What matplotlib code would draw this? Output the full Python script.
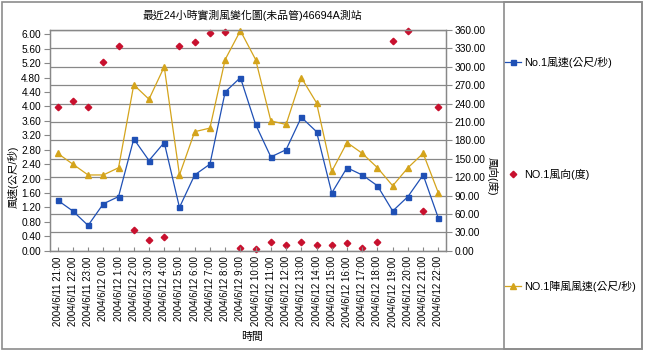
import matplotlib
matplotlib.use('Agg')
import matplotlib.pyplot as plt
from matplotlib.lines import Line2D
from matplotlib.patches import Rectangle

plt.rcParams['font.family'] = ['Liberation Sans', 'Noto Sans CJK TC', 'DejaVu Sans']

# data
times = ['2004/6/11 21:00', '2004/6/11 22:00', '2004/6/11 23:00',
         '2004/6/12 0:00', '2004/6/12 1:00', '2004/6/12 2:00', '2004/6/12 3:00',
         '2004/6/12 4:00', '2004/6/12 5:00', '2004/6/12 6:00', '2004/6/12 7:00',
         '2004/6/12 8:00', '2004/6/12 9:00', '2004/6/12 10:00', '2004/6/12 11:00',
         '2004/6/12 12:00', '2004/6/12 13:00', '2004/6/12 14:00', '2004/6/12 15:00',
         '2004/6/12 16:00', '2004/6/12 17:00', '2004/6/12 18:00', '2004/6/12 19:00',
         '2004/6/12 20:00', '2004/6/12 21:00', '2004/6/12 22:00']
speed = [1.4, 1.1, 0.7, 1.3, 1.5, 3.1, 2.5, 3.0, 1.2, 2.1, 2.4, 4.4, 4.8,
         3.5, 2.6, 2.8, 3.7, 3.3, 1.6, 2.3, 2.1, 1.8, 1.1, 1.5, 2.1, 0.9]
direction = [234, 244, 234, 307, 334, 33, 18, 23, 334, 340, 355, 357, 4,
             3, 15, 9, 15, 9, 9, 12, 4, 14, 342, 358, 64, 235]
gust = [2.7, 2.4, 2.1, 2.1, 2.3, 4.6, 4.2, 5.1, 2.1, 3.3, 3.4, 5.3, 6.1,
        5.3, 3.6, 3.5, 4.8, 4.1, 2.2, 3.0, 2.7, 2.3, 1.8, 2.3, 2.7, 1.6]

left_ticks = [i * 0.4 for i in range(16)]
right_ticks = list(range(0, 361, 30))

blue = '#1f50b5'
gold = '#d4a41c'
red = '#c8102e'
grey = '#888888'

W, H = 645, 352
fig = plt.figure(figsize=(W / 100, H / 100), dpi=100)

ax = fig.add_axes([50 / W, 1 - 250.7 / H, 396 / W, 220.7 / H])
ax2 = ax.twinx()
ax.set_zorder(ax2.get_zorder() + 1)
ax.patch.set_visible(False)

x = list(range(len(times)))

# right axis: direction + gridlines
ax2.plot(x, direction, linestyle='none', marker='D', markersize=3.3,
         color=red, clip_on=False)
ax2.set_ylim(0, 360)
ax2.set_yticks(right_ticks)
ax2.set_yticklabels(['%.2f' % v for v in right_ticks], fontsize=7.3)
ax2.yaxis.grid(True, color=grey, linewidth=0.9)
ax2.set_axisbelow(True)
ax2.tick_params(axis='y', direction='out', length=4, pad=2, color=grey)

# left axis: speed and gust
ax.plot(x, speed, color=blue, linewidth=0.9, marker='s', markersize=3.6,
        clip_on=False)
ax.plot(x, gust, color=gold, linewidth=0.9, marker='^', markersize=5,
        clip_on=False)
ax.set_ylim(0, 6.12)
ax.set_yticks(left_ticks)
ax.set_yticklabels(['%.2f' % v for v in left_ticks], fontsize=7.3)
ax.tick_params(axis='y', direction='out', length=4, pad=2.5, color=grey)

ax.set_xlim(-0.5, len(times) - 0.5)
ax.set_xticks(x)
ax.set_xticklabels(times, rotation=90, fontsize=7)
ax.tick_params(axis='x', direction='in', length=3, pad=4, color=grey)

for a in (ax, ax2):
    for s in a.spines.values():
        s.set_color(grey)
        s.set_linewidth(0.9)

fig.text(252 / W, 1 - 15 / H, '最近24小時實測風變化圖(未品管)46694A測站',
         ha='center', va='center', fontsize=7.8)
fig.text(13 / W, 1 - 177 / H, '風速(公尺/秒)', rotation=90,
         ha='center', va='center', fontsize=7.6)
fig.text(492 / W, 1 - 176 / H, '風向(度)', rotation=270,
         ha='center', va='center', fontsize=7.6)
fig.text(252 / W, 1 - 337 / H, '時間', ha='center', va='center', fontsize=7.8)

# frames
fig.patches.append(Rectangle((2 / W, 1 - 349 / H), 640 / W, 347 / H,
                             transform=fig.transFigure, fill=False,
                             edgecolor='#8c8c8c', linewidth=1.2))
fig.patches.append(Rectangle((504 / W, 1 - 349 / H), 138 / W, 347 / H,
                             transform=fig.transFigure, fill=False,
                             edgecolor='#8c8c8c', linewidth=1.2))

handles = [
    Line2D([], [], color=blue, linewidth=0.9, marker='s', markersize=3.6),
    Line2D([], [], linestyle='none', marker='D', markersize=3.3, color=red),
    Line2D([], [], color=gold, linewidth=0.9, marker='^', markersize=5),
]
labels = ['No.1風速(公尺/秒)', 'NO.1風向(度)', 'NO.1陣風風速(公尺/秒)']
fig.legend(handles, labels, loc='upper left',
           bbox_to_anchor=(505 / W, 1 - 57 / H), frameon=False,
           fontsize=7.8, handlelength=1.5, handletextpad=0.3,
           labelspacing=9.3, borderpad=0, borderaxespad=0)

fig.savefig('out.png', dpi=100)
